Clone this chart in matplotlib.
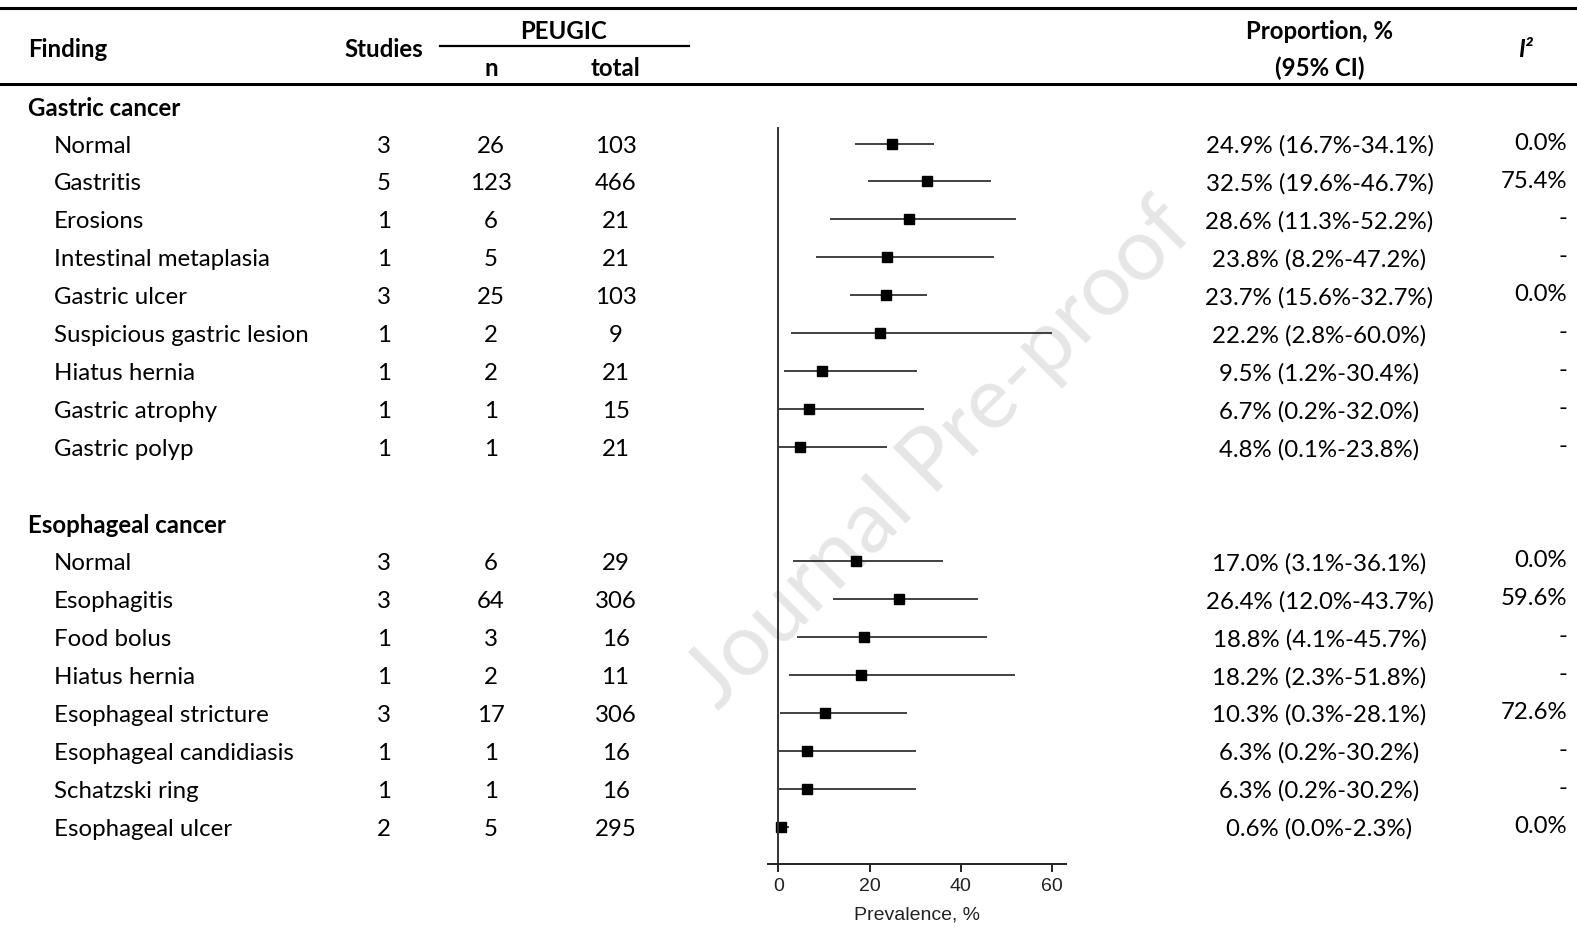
import matplotlib
matplotlib.use("Agg")
import matplotlib.pyplot as plt

# ---------------- data ----------------
gastric_findings = ["Normal", "Gastritis", "Erosions", "Intestinal metaplasia", "Gastric ulcer",
                    "Suspicious gastric lesion", "Hiatus hernia", "Gastric atrophy", "Gastric polyp"]
gastric_studies = [3, 5, 1, 1, 3, 1, 1, 1, 1]
gastric_n = [26, 123, 6, 5, 25, 2, 2, 1, 1]
gastric_total = [103, 466, 21, 21, 103, 9, 21, 15, 21]
gastric_est = [24.9, 32.5, 28.6, 23.8, 23.7, 22.2, 9.5, 6.7, 4.8]
gastric_lo = [16.7, 19.6, 11.3, 8.2, 15.6, 2.8, 1.2, 0.2, 0.1]
gastric_hi = [34.1, 46.7, 52.2, 47.2, 32.7, 60.0, 30.4, 32.0, 23.8]
gastric_i2 = ["0.0%", "75.4%", "-", "-", "0.0%", "-", "-", "-", "-"]

esoph_findings = ["Normal", "Esophagitis", "Food bolus", "Hiatus hernia", "Esophageal stricture",
                  "Esophageal candidiasis", "Schatzski ring", "Esophageal ulcer"]
esoph_studies = [3, 3, 1, 1, 3, 1, 1, 2]
esoph_n = [6, 64, 3, 2, 17, 1, 1, 5]
esoph_total = [29, 306, 16, 11, 306, 16, 16, 295]
esoph_est = [17.0, 26.4, 18.8, 18.2, 10.3, 6.3, 6.3, 0.6]
esoph_lo = [3.1, 12.0, 4.1, 2.3, 0.3, 0.2, 0.2, 0.0]
esoph_hi = [36.1, 43.7, 45.7, 51.8, 28.1, 30.2, 30.2, 2.3]
esoph_i2 = ["0.0%", "59.6%", "-", "-", "72.6%", "-", "-", "0.0%"]

x_ticks = [0, 20, 40, 60]

# ---------------- layout ----------------
W, H = 1577, 935
ROW0, STEP = 105.6, 37.95       # pixel y of first section row, row spacing
TXT = "Lato"
FS = 17.3
DY = 2.5                        # text baseline nudge

def row_y(i):
    return ROW0 + STEP * i

fig = plt.figure(figsize=(W / 100, H / 100), dpi=100)
tab = fig.add_axes([0, 0, 1, 1])
tab.set_xlim(0, W)
tab.set_ylim(H, 0)
tab.axis("off")

# watermark
tab.text(940, 455, "Journal Pre-proof", rotation=45, ha="center", va="center",
         fontsize=63, family=TXT, color="#e6e6e6", zorder=0)

# header rules
tab.plot([0, W], [8, 8], color="black", lw=2.2)
tab.plot([0, W], [83.5, 83.5], color="black", lw=2.2)
tab.plot([440, 689], [46, 46], color="black", lw=1.6)

hdr = dict(family=TXT, fontsize=FS, fontweight="bold", va="center")
tab.text(28, 47 + DY, "Finding", ha="left", **hdr)
tab.text(384, 47 + DY, "Studies", ha="center", **hdr)
tab.text(564, 29 + DY, "PEUGIC", ha="center", **hdr)
tab.text(491, 66 + DY, "n", ha="center", **hdr)
tab.text(615.5, 66 + DY, "total", ha="center", **hdr)
tab.text(1319.5, 29 + DY, "Proportion, %", ha="center", **hdr)
tab.text(1319.5, 66 + DY, "(95% CI)", ha="center", **hdr)
tab.text(1525, 47 + DY, "I\u00b2", ha="center", style="italic", **hdr)

body = dict(family=TXT, fontsize=FS, va="center")

sections = [
    ("Gastric cancer", gastric_findings, gastric_studies, gastric_n, gastric_total,
     gastric_est, gastric_lo, gastric_hi, gastric_i2),
    ("Esophageal cancer", esoph_findings, esoph_studies, esoph_n, esoph_total,
     esoph_est, esoph_lo, esoph_hi, esoph_i2),
]

# forest plot axes (y in row units)
ax_top, ax_bot = 127, 864
ax_l, ax_r = 768, 1066
fp = fig.add_axes([ax_l / W, 1 - ax_bot / H, (ax_r - ax_l) / W, (ax_bot - ax_top) / H])
fp.set_facecolor("none")
fp.set_xlim(-2.3, 63.1)
fp.set_ylim((ax_bot - ROW0) / STEP, (ax_top - ROW0) / STEP)

row = 0
for title, names, studies, ns, totals, est, lo, hi, i2 in sections:
    tab.text(28, row_y(row) + DY, title, ha="left", **hdr)
    row += 1
    for k in range(len(names)):
        y = row_y(row) + DY
        tab.text(54, y, names[k], ha="left", **body)
        tab.text(384, y, str(studies[k]), ha="center", **body)
        tab.text(491, y, str(ns[k]), ha="center", **body)
        tab.text(615.5, y, str(totals[k]), ha="center", **body)
        tab.text(1319.5, y, f"{est[k]:.1f}% ({lo[k]:.1f}%-{hi[k]:.1f}%)", ha="center", **body)
        tab.text(1567, y - 3, i2[k], ha="right", **body)
        fp.plot([lo[k], hi[k]], [row, row], color="#222222", lw=1.2, solid_capstyle="butt")
        fp.plot(est[k], row, marker="s", ms=6.5, color="black", mec="black")
        row += 1
    row += 1

fp.axvline(0, color="#333333", lw=1.4)
for s in ["left", "right", "top"]:
    fp.spines[s].set_visible(False)
fp.spines["bottom"].set_linewidth(1.4)
fp.spines["bottom"].set_color("#222222")
fp.set_yticks([])
fp.set_xticks(x_ticks)
fp.set_xticklabels([str(t) for t in x_ticks], family="Liberation Sans", fontsize=14, color="#222222")
fp.tick_params(axis="x", direction="out", length=6, width=1.4, color="#222222", pad=4)
fp.set_xlabel("Prevalence, %", family="Liberation Sans", fontsize=14, color="#222222", labelpad=8)

fig.savefig("out.png", dpi=100)
